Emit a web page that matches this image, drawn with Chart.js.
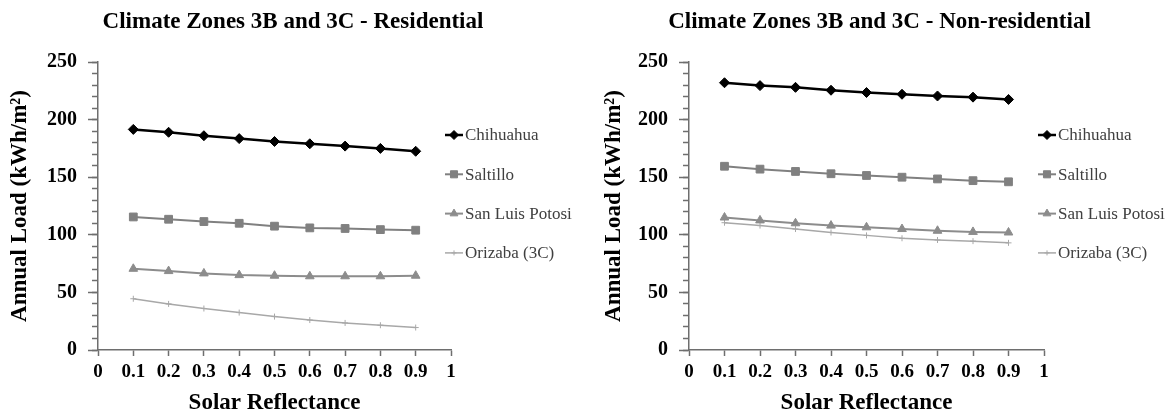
<!DOCTYPE html>
<html>
<head>
<meta charset="utf-8">
<script src="https://cdn.jsdelivr.net/npm/chart.js@4.4.1/dist/chart.umd.min.js"></script>
<style>
  html, body { margin: 0; padding: 0; background: #ffffff; }
  #wrap { position: relative; width: 1173px; height: 412px; overflow: hidden; }
  .pane { position: absolute; top: 0; height: 412px; }
</style>
</head>
<body>
<div id="wrap">
  <div class="pane" style="left:0;width:586px"><canvas id="residential" width="586" height="412"></canvas></div>
  <div class="pane" style="left:586px;width:587px"><canvas id="nonresidential" width="587" height="412"></canvas></div>
</div>
<script>
// Solar reflectance of the roof (x values)
const reflectance = [0.1, 0.2, 0.3, 0.4, 0.5, 0.6, 0.7, 0.8, 0.9];
const cities = ['Chihuahua', 'Saltillo', 'San Luis Potosi', 'Orizaba (3C)'];

// Annual load, kWh/m², residential buildings
const resChihuahua = [191.5, 189, 186, 183.5, 181, 179, 177, 175, 172.5];
const resSaltillo  = [115.5, 113.5, 111.5, 110, 107.5, 106, 105.5, 104.5, 104];
const resSanLuis   = [70.5, 68.5, 66.5, 65, 64.5, 64, 64, 64, 64.5];
const resOrizaba   = [44.5, 40, 36, 32.5, 29, 26, 23.5, 21.5, 19.5];

// Annual load, kWh/m², non-residential buildings
const nonChihuahua = [232, 229.5, 228, 225.5, 223.5, 222, 220.5, 219.5, 217.5];
const nonSaltillo  = [159.5, 157, 155, 153, 151.5, 150, 148.5, 147, 146];
const nonSanLuis   = [115, 112.5, 110, 108, 106.5, 105, 103.5, 102.5, 102];
const nonOrizaba   = [110.5, 108, 105, 102, 99.5, 97, 95.5, 94.5, 93];

// Axis tick values
const xTickValues = [0, 0.1, 0.2, 0.3, 0.4, 0.5, 0.6, 0.7, 0.8, 0.9, 1];
const yTickValues = [0, 50, 100, 150, 200, 250];
const yMinorStep = 10;

const SERIF = "'Liberation Serif', 'Times New Roman', serif";
const AXIS_GRAY = '#6e6e6e';

const seriesStyles = [
  { color: '#000000', width: 2.5, point: 'rectRot',  radius: 5 },
  { color: '#808080', width: 2,   point: 'rect',     radius: 5.5 },
  { color: '#8c8c8c', width: 2,   point: 'triangle', radius: 5 },
  { color: '#a8a8a8', width: 1.5, point: 'cross',    radius: 3 }
];

// Legend drawn to the right of the plot: short line + marker + city name
const sideLegend = {
  id: 'sideLegend',
  afterDraw(chart) {
    const { ctx, chartArea } = chart;
    const x0 = chartArea.right - 6;
    chart.data.datasets.forEach((ds, i) => {
      const y = chartArea.top + 73 + i * 39.3;
      ctx.save();
      ctx.strokeStyle = ds.borderColor;
      ctx.lineWidth = ds.borderWidth;
      ctx.beginPath();
      ctx.moveTo(x0, y);
      ctx.lineTo(x0 + 18, y);
      ctx.stroke();
      ctx.fillStyle = ds.pointBackgroundColor;
      ctx.strokeStyle = ds.pointBorderColor;
      ctx.lineWidth = ds.pointBorderWidth;
      Chart.helpers.drawPoint(ctx, { pointStyle: ds.pointStyle, radius: ds.pointRadius - 0.5, borderWidth: ds.pointBorderWidth, rotation: 0 }, x0 + 9, y);
      ctx.fillStyle = '#404040';
      ctx.font = '17px ' + SERIF;
      ctx.textAlign = 'left';
      ctx.textBaseline = 'middle';
      ctx.fillText(ds.label, x0 + 20, y + 1);
      ctx.restore();
    });
  }
};

function makeChart(canvasId, titleText, series, geom) {
  const datasets = series.map((vals, i) => {
    const st = seriesStyles[i];
    return {
      label: cities[i],
      data: reflectance.map((r, k) => ({ x: r, y: vals[k] })),
      borderColor: st.color,
      backgroundColor: st.color,
      borderWidth: st.width,
      pointStyle: st.point,
      pointRadius: st.radius,
      pointBackgroundColor: st.color,
      pointBorderColor: st.color,
      pointBorderWidth: 1,
      tension: 0,
      xAxisID: 'x',
      yAxisID: 'y'
    };
  });

  return new Chart(document.getElementById(canvasId), {
    type: 'line',
    data: { datasets },
    options: {
      responsive: false,
      animation: false,
      devicePixelRatio: 1,
      layout: { padding: 0 },
      plugins: {
        legend: { display: false },
        tooltip: { enabled: false },
        title: {
          display: true,
          text: titleText,
          color: '#000',
          font: { family: SERIF, size: 23, weight: 'bold', lineHeight: 1.2 },
          padding: { top: 8, bottom: 26.4 }
        }
      },
      scales: {
        x: {
          type: 'linear',
          position: 'bottom',
          min: 0,
          max: 1,
          afterBuildTicks: s => { s.ticks = xTickValues.map(v => ({ value: v })); },
          border: { display: true, color: AXIS_GRAY, width: 1.5 },
          grid: { drawOnChartArea: false, tickLength: 6, color: AXIS_GRAY, tickWidth: 1.5 },
          ticks: {
            color: '#000',
            font: { family: SERIF, size: 19, weight: 'bold' },
            padding: 5,
            maxRotation: 0,
            autoSkip: false,
            callback: v => (v === 0 ? '0' : v === 1 ? '1' : Number(v).toFixed(1))
          },
          title: {
            display: true,
            text: 'Solar Reflectance',
            color: '#000',
            font: { family: SERIF, size: 23, weight: 'bold', lineHeight: 1 },
            padding: { top: 0, bottom: -2.5 }
          },
          afterFit: s => { s.height = 62; }
        },
        y: {
          type: 'linear',
          position: 'left',
          weight: 1,
          min: 0,
          max: 250,
          afterBuildTicks: s => { s.ticks = yTickValues.map(v => ({ value: v })); },
          border: { display: true, color: AXIS_GRAY, width: 1.5 },
          grid: { drawOnChartArea: false, tickLength: 10, color: AXIS_GRAY, tickWidth: 1.5 },
          ticks: {
            color: '#000',
            font: { family: SERIF, size: 20, weight: 'bold' },
            padding: 11
          },
          title: {
            display: true,
            text: 'Annual Load (kWh/m²)',
            color: '#000',
            font: { family: SERIF, size: 23, weight: 'bold', lineHeight: 1.2 },
            padding: { top: geom.yTitlePad, bottom: 0 }
          },
          afterFit: s => { s.width = geom.axisWidth; }
        },
        yMinor: {
          type: 'linear',
          position: 'left',
          weight: 0,
          min: 0,
          max: 250,
          ticks: { display: false, stepSize: yMinorStep },
          border: { display: false },
          grid: { drawOnChartArea: false, tickLength: 6, color: AXIS_GRAY, tickWidth: 1.5 },
          afterFit: s => { s.width = 0; }
        },
        // empty band on the right that holds the legend
        legendBand: {
          type: 'linear',
          position: 'right',
          min: 0,
          max: 250,
          ticks: { display: false },
          border: { display: false },
          grid: { display: false },
          afterFit: s => { s.width = geom.legendWidth; }
        }
      }
    },
    plugins: [sideLegend]
  });
}

makeChart('residential', 'Climate Zones 3B and 3C - Residential',
  [resChihuahua, resSaltillo, resSanLuis, resOrizaba],
  { axisWidth: 98, legendWidth: 135, yTitlePad: 6 });

makeChart('nonresidential', 'Climate Zones 3B and 3C - Non-residential',
  [nonChihuahua, nonSaltillo, nonSanLuis, nonOrizaba],
  { axisWidth: 103, legendWidth: 129, yTitlePad: 14 });
</script>
</body>
</html>
